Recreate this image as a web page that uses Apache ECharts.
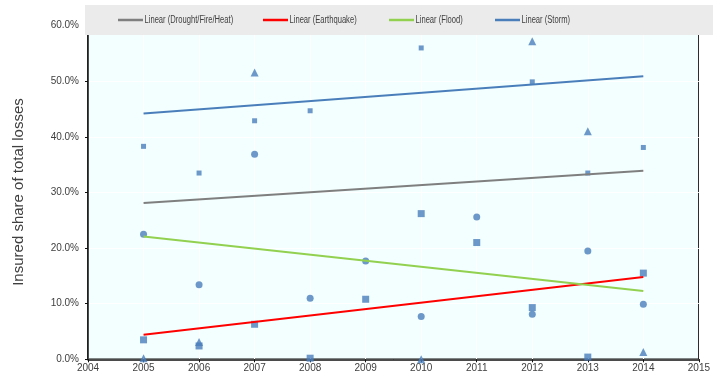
<!DOCTYPE html>
<html>
<head>
<meta charset="utf-8">
<script src="https://cdn.jsdelivr.net/npm/echarts@6/dist/echarts.min.js"></script>
<style>
  html, body { margin: 0; padding: 0; background: #ffffff; }
  #chart { width: 713px; height: 379px; }
</style>
</head>
<body>
<div id="chart"></div>
<script>
// Years covered by the observations
const years = [2005, 2006, 2007, 2008, 2009, 2010, 2011, 2012, 2013, 2014];

// Insured share of total losses (%) per peril; null = no observation shown
const droughtVals = [0.2, 3.1, 51.6, null, null, 0.0, null, 57.2, 41.0, 1.3];
const quakeVals   = [3.5, 2.4, 6.3, 0.2, 10.8, 26.2, 21.0, 9.3, 0.4, 15.5];
const floodVals   = [22.5, 13.4, 36.9, 11.0, 17.7, 7.7, 25.6, 8.1, 19.5, 9.9];
const stormVals   = [38.3, 33.5, 42.9, 44.7, null, 56.0, null, 49.9, 33.5, 38.1];

// Linear trend lines: value at the first and last year
const trendYears    = [2005, 2014];
const droughtTrend  = [28.1, 33.9];
const quakeTrend    = [4.4, 14.8];
const floodTrend    = [22.1, 12.3];
const stormTrend    = [44.2, 50.9];

const trendNames  = ['Linear (Drought/Fire/Heat)', 'Linear (Earthquake)', 'Linear (Flood)', 'Linear (Storm)'];
const trendColors = ['#7f7f7f', '#ff0000', '#92d050', '#4a7ebb'];

const MARK = '#4a7ebb';
const FONT = "'Liberation Sans', Arial, sans-serif";

function pairs(xs, ys) {
  const out = [];
  for (let i = 0; i < xs.length; i++) {
    if (ys[i] !== null) out.push([xs[i], ys[i]]);
  }
  return out;
}

function scatter(name, vals, symbol, size) {
  return {
    name: name,
    type: 'scatter',
    data: pairs(years, vals),
    symbol: symbol,
    symbolSize: size,
    itemStyle: { color: MARK },
    z: 3,
    silent: true
  };
}

function trend(name, vals, color) {
  return {
    name: name,
    type: 'line',
    data: pairs(trendYears, vals),
    symbol: 'none',
    lineStyle: { color: color, width: 2 },
    itemStyle: { color: color },
    z: 4,
    silent: true
  };
}

// Legend band: a grey strip with a short line swatch and a condensed label per trend
const legendStarts = [118, 263, 389, 495];
const legendEls = [{
  type: 'rect',
  shape: { x: 85, y: 5, width: 628, height: 30 },
  style: { fill: '#ebebeb' },
  z: 50,
  silent: true
}];
trendNames.forEach((name, i) => {
  const x0 = legendStarts[i];
  legendEls.push({
    type: 'line',
    shape: { x1: x0, y1: 20, x2: x0 + 25, y2: 20 },
    style: { stroke: trendColors[i], lineWidth: 2.5 },
    z: 51,
    silent: true
  });
  legendEls.push({
    type: 'text',
    x: x0 + 26.5,
    y: 20,
    scaleX: 0.76,
    style: {
      text: name,
      fill: '#404040',
      font: '10px ' + FONT,
      align: 'left',
      verticalAlign: 'middle'
    },
    z: 51,
    silent: true
  });
});

const chart = echarts.init(document.getElementById('chart'), null, { renderer: 'canvas' });

chart.setOption({
  animation: false,
  backgroundColor: '#ffffff',
  textStyle: { fontFamily: FONT },
  grid: {
    left: 88, right: 7, top: 25.7, bottom: 19.7,
    show: true,
    backgroundColor: '#f2fffe',
    borderColor: '#111111',
    borderWidth: 1.5,
    containLabel: false
  },
  graphic: {
    elements: legendEls.concat([{
      type: 'text',
      rotation: Math.PI / 2,
      x: 19,
      y: 192,
      style: {
        text: 'Insured share of total losses',
        fill: '#404040',
        font: '15px ' + FONT,
        align: 'center',
        verticalAlign: 'middle'
      },
      z: 50,
      silent: true
    }])
  },
  xAxis: {
    type: 'value',
    min: 2004,
    max: 2015,
    interval: 1,
    axisLine: { show: true, lineStyle: { color: '#111111', width: 1.5 } },
    axisTick: { show: true, length: 3, lineStyle: { color: '#111111' } },
    axisLabel: {
      color: '#404040',
      fontSize: 10,
      margin: 4,
      fontFamily: FONT,
      formatter: v => String(v)
    },
    splitLine: { show: true, lineStyle: { color: '#ffffff', width: 1 } }
  },
  yAxis: {
    type: 'value',
    min: 0,
    max: 60,
    interval: 10,
    axisLine: { show: true, lineStyle: { color: '#111111', width: 1.5 } },
    axisTick: { show: true, length: 3, lineStyle: { color: '#111111' } },
    axisLabel: {
      color: '#404040',
      fontSize: 10,
      margin: 9,
      fontFamily: FONT,
      formatter: v => v.toFixed(1) + '%'
    },
    splitLine: { show: true, lineStyle: { color: '#ffffff', width: 1 } }
  },
  series: [
    scatter('Drought/Fire/Heat', droughtVals, 'triangle', 8),
    scatter('Earthquake', quakeVals, 'rect', 7),
    scatter('Flood', floodVals, 'circle', 7),
    scatter('Storm', stormVals, 'rect', 5),
    trend(trendNames[0], droughtTrend, trendColors[0]),
    trend(trendNames[1], quakeTrend, trendColors[1]),
    trend(trendNames[2], floodTrend, trendColors[2]),
    trend(trendNames[3], stormTrend, trendColors[3])
  ]
});
</script>
</body>
</html>
